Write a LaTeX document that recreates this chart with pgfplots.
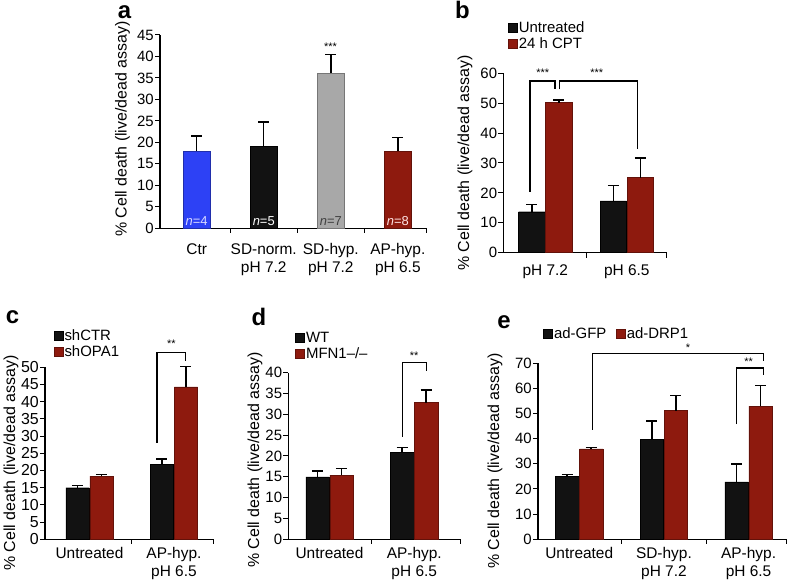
\documentclass[border=0pt]{standalone}
\usepackage{fontspec}
\setmainfont{Liberation Sans}
\usepackage{pgfplots}
\pgfplotsset{compat=1.18}

\definecolor{bred}{RGB}{142,26,14}
\definecolor{bblack}{RGB}{18,18,18}
\definecolor{bblue}{RGB}{45,65,245}
\definecolor{bgray}{RGB}{168,168,168}

\tikzset{
  brk/.style={line width=1.2bp, black},
  stars/.style={font=\fontsize{11}{11}\selectfont},
  xtk/.style={line width=1bp, black},
}
\newcommand{\xtk}[1]{\draw[xtk] (axis cs:#1,0) -- ([yshift=-5bp]axis cs:#1,0);}
\pgfplotsset{
  panel/.style={
    scale only axis,
    ybar,
    axis x line=bottom, axis y line=left,
    axis line style={-, line width=1.2bp, black},
    ymin=0,
    tick align=outside,
    major tick length=5bp,
    ytick style={black, line width=1bp},
    xtick style={draw=none},
    yticklabel style={font=\fontsize{15}{15}\selectfont, inner sep=1bp},
    xticklabel style={font=\fontsize{15.5}{18}\selectfont, align=center, inner sep=1bp},
    /pgf/number format/assume math mode=true,
    clip=false,
    error bars/y dir=plus, error bars/y explicit,
    error bars/error bar style={line width=1.5bp, black},
    error bars/error mark options={rotate=90, line width=1.5bp, black, mark size=5.5bp},
    legend image code/.code={\fill[##1] (0bp,-4.5bp) rectangle (9bp,4.5bp);},
    legend style={draw=none, fill=none, inner sep=0pt, font=\fontsize{15}{15}\selectfont,
      nodes={inner sep=1.5bp, anchor=west}, row sep=1bp},
    legend cell align=left,
  },
  redbar/.style={fill=bred, draw=bred!70!black, line width=0.4bp},
  blackbar/.style={fill=bblack, draw=black, line width=0.4bp},
}

\begin{document}
\begin{tikzpicture}
\path[use as bounding box] (0,0) rectangle (788bp,582bp);

% ---------- panel a ----------
\begin{axis}[panel, at={(160bp,353.7bp)}, anchor=south west,
  width=266.7bp, height=193.3bp,
  xmin=-0.547, xmax=3.43, ymax=45, ytick={0,5,...,45},
  xtick={0,1,2,3},
  xticklabels={Ctr, SD-norm.\\pH 7.2, SD-hyp.\\pH 7.2, AP-hyp.\\pH 6.5},
  xticklabel style={yshift=-9bp},
  bar width=26.7bp]
\addplot[fill=bblue, draw=bblue!70!black, line width=0.4bp, bar shift=0pt] coordinates {(0,18) +- (0,3.5)};
\addplot[blackbar, bar shift=0pt] coordinates {(1,19) +- (0,5.7)};
\addplot[fill=bgray, draw=bgray!70!black, line width=0.4bp, bar shift=0pt] coordinates {(2,36.1) +- (0,4.4)};
\addplot[redbar, bar shift=0pt] coordinates {(3,18) +- (0,3.1)};
\xtk{0.5}\xtk{1.5}\xtk{2.5}\xtk{3.43}
\node[font=\fontsize{13}{13}\selectfont, text=blue!15!white] at (axis cs:0,1.7) {\textit{n}=4};
\node[font=\fontsize{13}{13}\selectfont, text=white] at (axis cs:1,1.7) {\textit{n}=5};
\node[font=\fontsize{13}{13}\selectfont, text=black!75] at (axis cs:2,1.7) {\textit{n}=7};
\node[font=\fontsize{13}{13}\selectfont, text=red!10!white] at (axis cs:3,1.7) {\textit{n}=8};
\node[stars] at (axis cs:1.994,42.2) {***};
\end{axis}

% ---------- panel b ----------
\begin{axis}[panel, at={(503.3bp,329.3bp)}, anchor=south west,
  width=163.4bp, height=179.4bp,
  xmin=-0.515, xmax=1.49, ymax=60, ytick={0,10,...,60},
  xtick={0,1}, xticklabels={pH 7.2, pH 6.5},
  xticklabel style={yshift=-6bp},
  bar width=26.5bp,
  legend style={at={(axis description cs:0.027,1.30)}, anchor=north west},
  legend entries={Untreated, 24 h CPT}]
\addplot[blackbar, bar shift=-13.5bp] coordinates {(0,13.7) +- (0,2.4) (1,17.3) +- (0,5.2)};
\addplot[redbar, bar shift=13.5bp] coordinates {(0,50.2) +- (0,0.9) (1,25.1) +- (0,6.5)};
\xtk{0.5}\xtk{1.49}
\draw[brk] (axis cs:-0.187,20.4) -- (axis cs:-0.187,57.4) -- (axis cs:0.12,57.4) -- (axis cs:0.12,54.6);
\draw[brk] (axis cs:0.173,54.6) -- (axis cs:0.173,57.4) -- (axis cs:1.133,57.4) -- (axis cs:1.133,34.6);
\node[stars] at (axis cs:-0.03,60.1) {***};
\node[stars] at (axis cs:0.633,60.1) {***};
\end{axis}

% ---------- panel c ----------
\begin{axis}[panel, at={(45bp,42.7bp)}, anchor=south west,
  width=168.3bp, height=172bp,
  xmin=-0.526, xmax=1.466, ymax=50, ytick={0,5,...,50},
  yticklabel style={font=\fontsize{16}{16}\selectfont},
  xtick={0,1}, xticklabels={Untreated, AP-hyp.\\pH 6.5},
  xticklabel style={yshift=-2bp},
  bar width=23.3bp,
  legend style={at={(axis description cs:0.05,1.23)}, anchor=north west},
  legend entries={shCTR, shOPA1}]
\addplot[blackbar, bar shift=-12bp] coordinates {(0,15.0) +- (0,0.7) (1,21.8) +- (0,1.6)};
\addplot[redbar, bar shift=12bp] coordinates {(0,18.4) +- (0,0.5) (1,44.3) +- (0,5.9)};
\xtk{0.5}\xtk{1.466}
\draw[brk] (axis cs:0.8,28.1) -- (axis cs:0.8,54.3) -- (axis cs:1.141,54.3) -- (axis cs:1.141,51.9);
\node[stars] at (axis cs:0.97,56.9) {**};
\end{axis}

% ---------- panel d ----------
\begin{axis}[panel, at={(288.3bp,42.7bp)}, anchor=south west,
  width=171.7bp, height=166.6bp,
  xmin=-0.486, xmax=1.54, ymax=40, ytick={0,5,...,40},
  xtick={0,1}, xticklabels={Untreated, AP-hyp.\\pH 6.5},
  xticklabel style={yshift=-2bp},
  bar width=23.3bp,
  legend style={at={(axis description cs:0.039,1.256)}, anchor=north west},
  legend entries={WT, MFN1--/--}]
\addplot[blackbar, bar shift=-12bp] coordinates {(0,15.0) +- (0,1.4) (1,20.8) +- (0,1.2)};
\addplot[redbar, bar shift=12bp] coordinates {(0,15.4) +- (0,1.6) (1,32.8) +- (0,3.0)};
\xtk{0.5}\xtk{1.54}
\draw[brk] (axis cs:0.86,24.6) -- (axis cs:0.86,42.4) -- (axis cs:1.147,42.4) -- (axis cs:1.147,40.5);
\node[stars] at (axis cs:1.0,44.0) {**};
\end{axis}

% ---------- panel e ----------
\begin{axis}[panel, at={(538bp,42.7bp)}, anchor=south west,
  width=248.7bp, height=176.3bp,
  xmin=-0.487, xmax=2.45, ymax=70, ytick={0,10,...,70},
  xtick={0,1,2}, xticklabels={Untreated, SD-hyp.\\pH 7.2, AP-hyp.\\pH 6.5},
  xticklabel style={yshift=-2bp},
  bar width=23.3bp,
  legend columns=2,
  legend style={at={(axis description cs:0.02,1.212)}, anchor=north west,
    /tikz/column 2/.style={column sep=8bp}},
  legend entries={ad-GFP, ad-DRP1}]
\addplot[blackbar, bar shift=-12bp] coordinates {(0,25.0) +- (0,0.8) (1,39.8) +- (0,7.2) (2,22.8) +- (0,7.0)};
\addplot[redbar, bar shift=12bp] coordinates {(0,35.9) +- (0,0.6) (1,51.1) +- (0,6.0) (2,52.9) +- (0,8.2)};
\xtk{0.5}\xtk{1.5}\xtk{2.45}
\draw[brk] (axis cs:0.154,43.5) -- (axis cs:0.154,73.7) -- (axis cs:2.173,73.7) -- (axis cs:2.173,70.7);
\draw[brk] (axis cs:1.857,45.7) -- (axis cs:1.857,68) -- (axis cs:2.173,68) -- (axis cs:2.173,65.4);
\node[stars] at (axis cs:1.283,76.0) {*};
\node[stars] at (axis cs:2.0,70.6) {**};
\end{axis}

% ---------- y labels ----------
\node[rotate=90, font=\fontsize{16}{16}\selectfont] at (122.5bp,453bp) {\% Cell death (live/dead assay)};
\node[rotate=90, font=\fontsize{16}{16}\selectfont] at (465bp,419bp) {\% Cell death (live/dead assay)};
\node[rotate=90, font=\fontsize{16}{16}\selectfont] at (11bp,119bp) {\% Cell death (live/dead assay)};
\node[rotate=90, font=\fontsize{16}{16}\selectfont] at (255bp,122bp) {\% Cell death (live/dead assay)};
\node[rotate=90, font=\fontsize{16}{16}\selectfont] at (495bp,121bp) {\% Cell death (live/dead assay)};

% ---------- panel letters ----------
\node[font=\bfseries\fontsize{24}{24}\selectfont] at (124.5bp,570.3bp) {a};
\node[font=\bfseries\fontsize{24}{24}\selectfont] at (462.5bp,572bp) {b};
\node[font=\bfseries\fontsize{24}{24}\selectfont] at (12.5bp,264.5bp) {c};
\node[font=\bfseries\fontsize{24}{24}\selectfont] at (259bp,265.3bp) {d};
\node[font=\bfseries\fontsize{24}{24}\selectfont] at (504bp,259.5bp) {e};
\end{tikzpicture}
\end{document}
